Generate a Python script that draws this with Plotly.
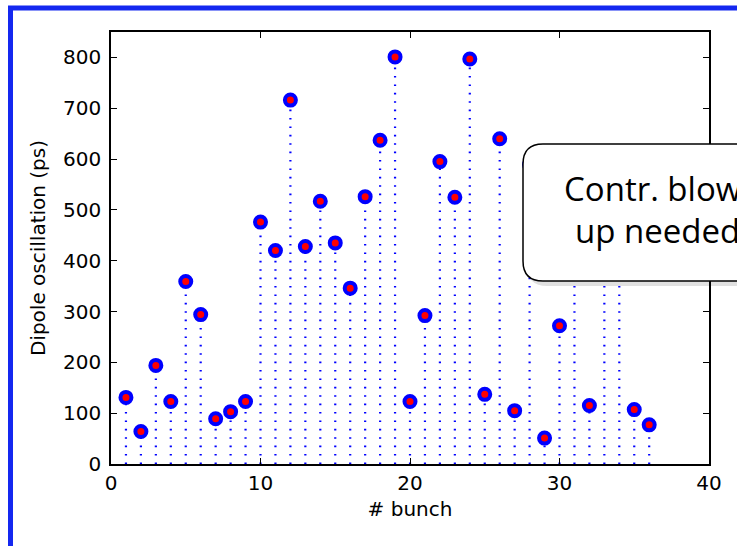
import plotly.graph_objects as go

# %%
bunch = list(range(1, 37))
oscillation = [
    131, 64, 194, 123, 359, 294, 89, 103, 123, 476,
    420, 716, 428, 517, 435, 346, 526, 637, 801, 123,
    292, 595, 525, 797, 137, 640, 105, 589, 51, 272,
    450, 115, 560, 430, 107, 77,
]
x_ticks = [0, 10, 20, 30, 40]
y_ticks = list(range(0, 801, 100))
callout_lines = ["Contr. blow-", "up needed"]

W, H = 737, 546
X0, X1, Y0, Y1 = 111, 709, 464, 32  # plot area in pixels


def px(x):
    return (x - X0) / (X1 - X0)


def py(y):
    return (Y0 - y) / (Y0 - Y1)


def rounded_box(x0, y0, x1, y1, r):
    return (
        f"M {px(x0 + r)},{py(y0)} L {px(x1 - r)},{py(y0)} "
        f"Q {px(x1)},{py(y0)} {px(x1)},{py(y0 + r)} L {px(x1)},{py(y1 - r)} "
        f"Q {px(x1)},{py(y1)} {px(x1 - r)},{py(y1)} L {px(x0 + r)},{py(y1)} "
        f"Q {px(x0)},{py(y1)} {px(x0)},{py(y1 - r)} L {px(x0)},{py(y0 + r)} "
        f"Q {px(x0)},{py(y0)} {px(x0 + r)},{py(y0)} Z"
    )


# %%
stem_x, stem_y = [], []
for b, v in zip(bunch, oscillation):
    stem_x += [b, b, None]
    stem_y += [0, v, None]

fig = go.Figure()
fig.add_trace(
    go.Scatter(
        x=stem_x, y=stem_y, mode="lines",
        line=dict(color="blue", width=2.2, dash="1.6px,6.8px"),
        hoverinfo="skip",
    )
)
fig.add_trace(
    go.Scatter(
        x=bunch, y=oscillation, mode="markers",
        marker=dict(size=11, color="red", line=dict(color="blue", width=4)),
    )
)

font = "DejaVu Sans"
axis_style = dict(
    showline=True, linecolor="black", linewidth=1.5, mirror="ticks",
    ticks="inside", ticklen=6, tickwidth=1.3, tickcolor="black",
    showgrid=False, zeroline=False,
    tickfont=dict(family=font, size=20, color="black"),
)
fig.update_xaxes(
    range=[0, 40], tickvals=x_ticks, **axis_style,
    title=dict(text="# bunch", font=dict(family=font, size=20, color="black"), standoff=8),
)
fig.update_yaxes(
    range=[0, 850], tickvals=y_ticks, ticklabelstandoff=4, **axis_style,
    title=dict(text="Dipole oscillation (ps)", font=dict(family=font, size=20, color="black"), standoff=12),
)

# blue slide frame
fig.add_shape(
    type="rect", xref="paper", yref="paper",
    x0=px(10.5), y0=py(8), x1=px(900), y1=py(700),
    line=dict(color="#1428f0", width=5), fillcolor="rgba(0,0,0,0)",
)
# callout with shadow
fig.add_shape(
    type="path", xref="paper", yref="paper",
    path=rounded_box(527, 149, 800, 286, 20),
    fillcolor="rgba(0,0,0,0.12)", line=dict(width=0),
)
fig.add_shape(
    type="path", xref="paper", yref="paper",
    path=rounded_box(523, 144, 800, 281, 20),
    fillcolor="white", line=dict(color="black", width=1.5),
)
fig.add_annotation(
    x=px(562), y=py(188), xref="paper", yref="paper", xanchor="left", yanchor="middle",
    text=callout_lines[0], showarrow=False,
    font=dict(family="Open Sans", size=33, color="black"),
)
fig.add_annotation(
    x=px(573), y=py(230), xref="paper", yref="paper", xanchor="left", yanchor="middle",
    text=callout_lines[1], showarrow=False,
    font=dict(family="Open Sans", size=33, color="black"),
)

fig.update_layout(
    width=W, height=H,
    margin=dict(l=X0, r=W - X1, t=Y1, b=H - Y0),
    paper_bgcolor="white", plot_bgcolor="white",
    showlegend=False,
)
# drop the default 8px page margin so the figure fills the window
fig.write_html(
    "out.html",
    config={"displayModeBar": False},
    post_script="document.body.style.margin='0';",
)
